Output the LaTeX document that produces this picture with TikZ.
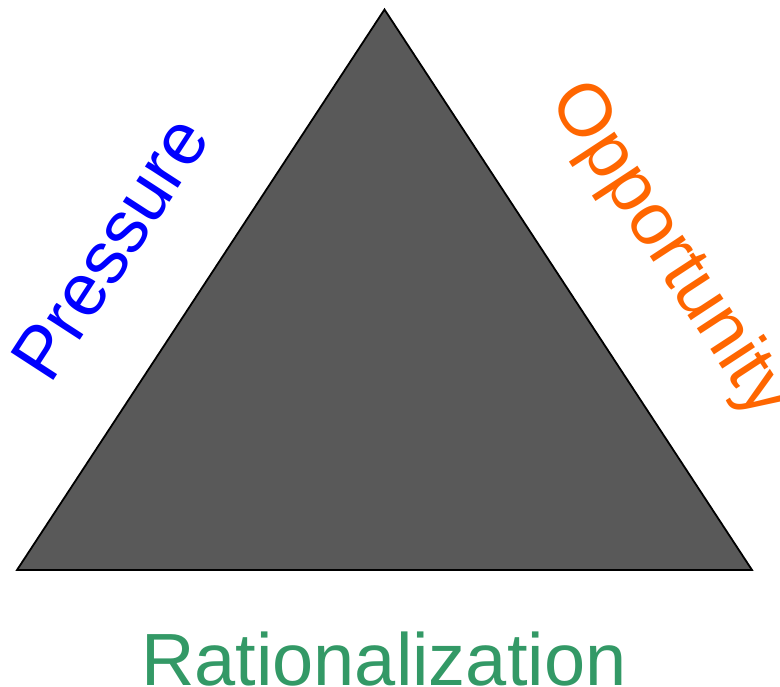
\documentclass[tikz,border=0pt]{standalone}
\usepackage{fontspec}
\setmainfont{Liberation Sans}
\definecolor{pressureblue}{HTML}{0000FF}
\definecolor{opporange}{HTML}{FF6600}
\definecolor{ratgreen}{HTML}{339966}
\definecolor{trifill}{HTML}{595959}
\begin{document}
\begin{tikzpicture}[x=1pt,y=-1pt,
  sidelabel/.style={inner sep=0pt, outer sep=0pt, anchor=base west,
    font=\fontsize{74}{80}\selectfont}]
  \useasboundingbox (0,0) rectangle (780,687);
  % the triangle
  \coordinate (apex) at (384.5,9.5);
  \coordinate (bl) at (17,570);
  \coordinate (br) at (752,570);
  \filldraw[fill=trifill, draw=black, line width=1.8pt] (apex) -- (br) -- (bl) -- cycle;
  % labels along the sides
  \node[sidelabel, text=pressureblue, rotate=57] (pressure) at (50.5,386) {Pressure};
  \node[sidelabel, text=opporange, rotate=-56.8] (opportunity) at (548,101) {Opportunity};
  \node[sidelabel, text=ratgreen] (rational) at (141,685) {Rationalization};
\end{tikzpicture}
\end{document}
